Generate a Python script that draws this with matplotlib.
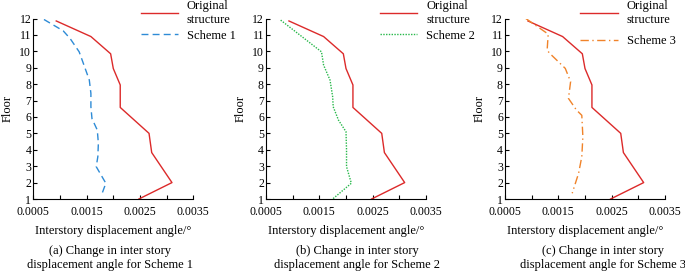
import matplotlib.pyplot as plt

plt.rcParams['font.family'] = ['Liberation Serif', 'DejaVu Serif']

# original structure (same for all three panels)
orig_floor = [11.85, 10.9, 9.85, 8.95, 7.95, 6.58, 5.0, 3.83, 2.0, 1.0]
orig_angle = [0.00093, 0.00158, 0.00195, 0.00200, 0.00213, 0.00213, 0.00267, 0.00272, 0.00310, 0.00248]

s1_floor = [11.94, 11.25, 10.78, 9.97, 9.16, 8.25, 7.44, 6.62, 5.9, 5.2, 4.39, 3.58, 2.97, 1.96, 1.25]
s1_angle = [0.00070, 0.00106, 0.00119, 0.00136, 0.00145, 0.00155, 0.00158, 0.00158, 0.00160, 0.00170,
            0.00172, 0.00171, 0.00168, 0.00186, 0.00178]

s2_floor = [11.9, 9.97, 9.16, 8.25, 7.23, 6.62, 5.8, 5.1, 3.99, 2.97, 1.96, 1.0]
s2_angle = [0.000775, 0.00154, 0.00158, 0.00170, 0.00175, 0.00176, 0.00186, 0.00200, 0.00201, 0.00201,
            0.00210, 0.00175]

s3_floor = [12.0, 11.05, 10.07, 9.87, 8.96, 8.15, 7.13, 6.42, 6.1, 4.8, 3.58, 2.57, 1.35]
s3_angle = [0.00089, 0.00131, 0.00129, 0.00134, 0.00163, 0.00173, 0.00169, 0.00184, 0.00194, 0.00196,
            0.00194, 0.00188, 0.00176]

xticks = [0.0005, 0.0015, 0.0025, 0.0035]
xtick_labels = ['0.0005', '0.0015', '0.0025', '0.0035']
floors = list(range(1, 13))

schemes = [
    (s1_floor, s1_angle, 'Scheme 1', '#2e8bd6', (0, (5, 3)), 'a'),
    (s2_floor, s2_angle, 'Scheme 2', '#27b84a', (0, (1, 1)), 'b'),
    (s3_floor, s3_angle, 'Scheme 3', '#f0832a', (0, (6, 2.5, 1, 2.5)), 'c'),
]

W, H = 685, 271
fig = plt.figure(figsize=(W / 100, H / 100), dpi=100)
fig.patch.set_facecolor('white')

lefts = [33.3, 266, 505]
caption_x = [110, 357, 603]
legend_x = [0.64, 0.68, 0.44]
legend_y = [1.13, 1.13, 1.13]
legend_sp = [0.3, 0.3, 0.75]
fs = 8.5

for i, (fl, ang, name, col, ls, letter) in enumerate(schemes):
    ax = fig.add_axes([lefts[i] / W, 72 / H, 160 / W, 180.5 / H])
    ax.plot(orig_angle, orig_floor, color='#dc2a2a', lw=1.0, label='Original\nstructure')
    ax.plot(ang, fl, color=col, lw=1.0, ls=ls, label=name)
    ax.set_xlim(0.0005, 0.0035)
    ax.set_ylim(1, 12)
    ax.set_xticks(xticks)
    ax.set_xticks([0.001, 0.002, 0.003], minor=True)
    ax.set_xticklabels(xtick_labels, fontsize=fs)
    ax.set_yticks(floors)
    ax.set_yticklabels([str(f) for f in floors], fontsize=fs)
    ax.tick_params(direction='in', length=3, width=0.8)
    ax.tick_params(axis='x', pad=5)
    ax.tick_params(axis='y', pad=1.5)
    ax.tick_params(which='minor', direction='in', length=3, width=0.8)
    ax.spines['top'].set_visible(False)
    ax.spines['right'].set_visible(False)
    ax.set_ylabel('Floor', fontsize=fs + 0.5, labelpad=4)
    ax.set_xlabel('Interstory displacement angle/°', fontsize=fs + 0.5, labelpad=5)
    ax.legend(loc='upper left', bbox_to_anchor=(legend_x[i], legend_y[i]), frameon=False, fontsize=fs + 0.5,
              handlelength=3.0, handletextpad=0.7, borderaxespad=0, labelspacing=legend_sp[i])
    fig.text(caption_x[i] / W, 1 - 258 / H,
             '(' + letter + ') Change in inter story\ndisplacement angle for ' + name,
             ha='center', va='center', fontsize=fs + 0.5, linespacing=1.2)

fig.savefig('out.png', dpi=100)
